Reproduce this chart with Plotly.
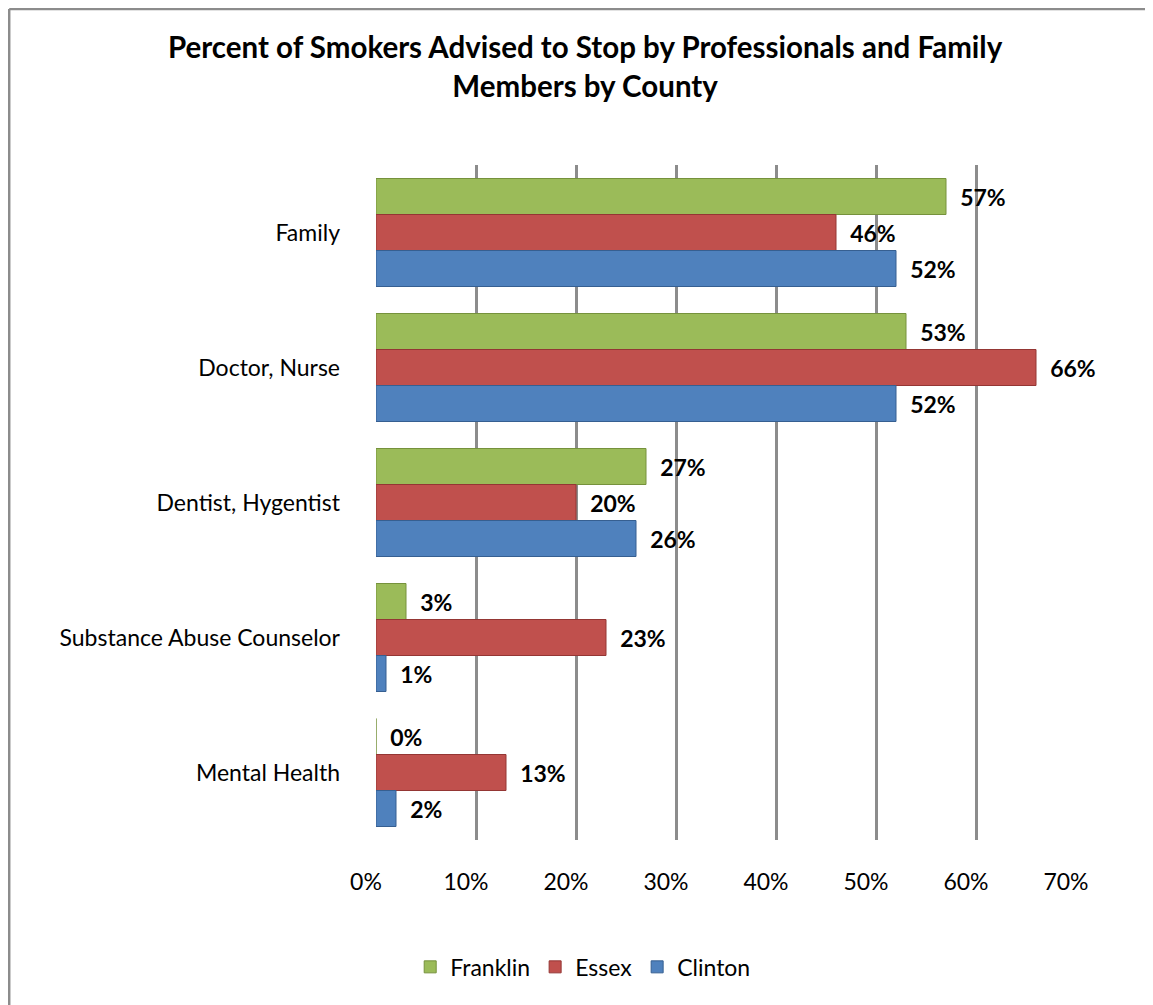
import plotly.graph_objects as go

categories = ["Family", "Doctor, Nurse", "Dentist, Hygentist", "Substance Abuse Counselor", "Mental Health"]
series_names = ["Franklin", "Essex", "Clinton"]
franklin = [57, 53, 27, 3, 0]
essex = [46, 66, 20, 23, 13]
clinton = [52, 52, 26, 1, 2]
x_ticks = [0, 10, 20, 30, 40, 50, 60, 70]
x_tick_labels = ["0%", "10%", "20%", "30%", "40%", "50%", "60%", "70%"]

colors = ["#9BBB59", "#C0504D", "#4F81BD"]
edge_colors = ["#76923C", "#943634", "#365F91"]
FONT = "Lato, 'Open Sans', sans-serif"

fig = go.Figure()
for name, vals, c, ec in zip(series_names, [franklin, essex, clinton], colors, edge_colors):
    fig.add_trace(go.Bar(
        y=categories, x=vals, name=name, orientation="h",
        marker=dict(color=c, line=dict(color=ec, width=1)),
        text=[f"  {v}%" for v in vals], textposition="outside",
        textfont=dict(family=FONT, size=23, color="black", weight="bold"),
        cliponaxis=False,
    ))

fig.update_layout(
    width=1145, height=997,
    margin=dict(l=368, r=77, t=157, b=165),
    paper_bgcolor="white", plot_bgcolor="white",
    barmode="group", bargap=0.2, bargroupgap=0,
    font=dict(family=FONT, size=23, color="black"),
    title=dict(
        text="<b>Percent of Smokers Advised to Stop by Professionals and Family<br>Members by County</b>",
        x=0.504, xanchor="center", y=0.9496, yanchor="middle",
        font=dict(family=FONT, size=29.5, color="black"),
    ),
    legend=dict(orientation="h", x=0.296, xanchor="center", y=-0.188, yanchor="middle",
                font=dict(family=FONT, size=23), traceorder="normal"),
    xaxis=dict(range=[0, 70], tickvals=x_ticks, ticktext=x_tick_labels,
               showgrid=True, gridcolor="#8C8C8C", gridwidth=2.5, zeroline=False,
               ticks="", ticklabelstandoff=26, ticklabelshift=-10, showline=False),
    yaxis=dict(autorange="reversed", showgrid=False, ticks="", ticklabelstandoff=35,
               showline=False),
    shapes=[
        dict(type="line", xref="paper", yref="paper", x0=-0.524, x1=-0.524, y0=1.231, y1=-0.3,
             line=dict(color="#8C8C8C", width=2.5)),
        dict(type="line", xref="paper", yref="paper", x0=-0.524, x1=1.2, y0=1.231, y1=1.231,
             line=dict(color="#8C8C8C", width=2.5)),
    ],
)

fig.write_html("out.html")
